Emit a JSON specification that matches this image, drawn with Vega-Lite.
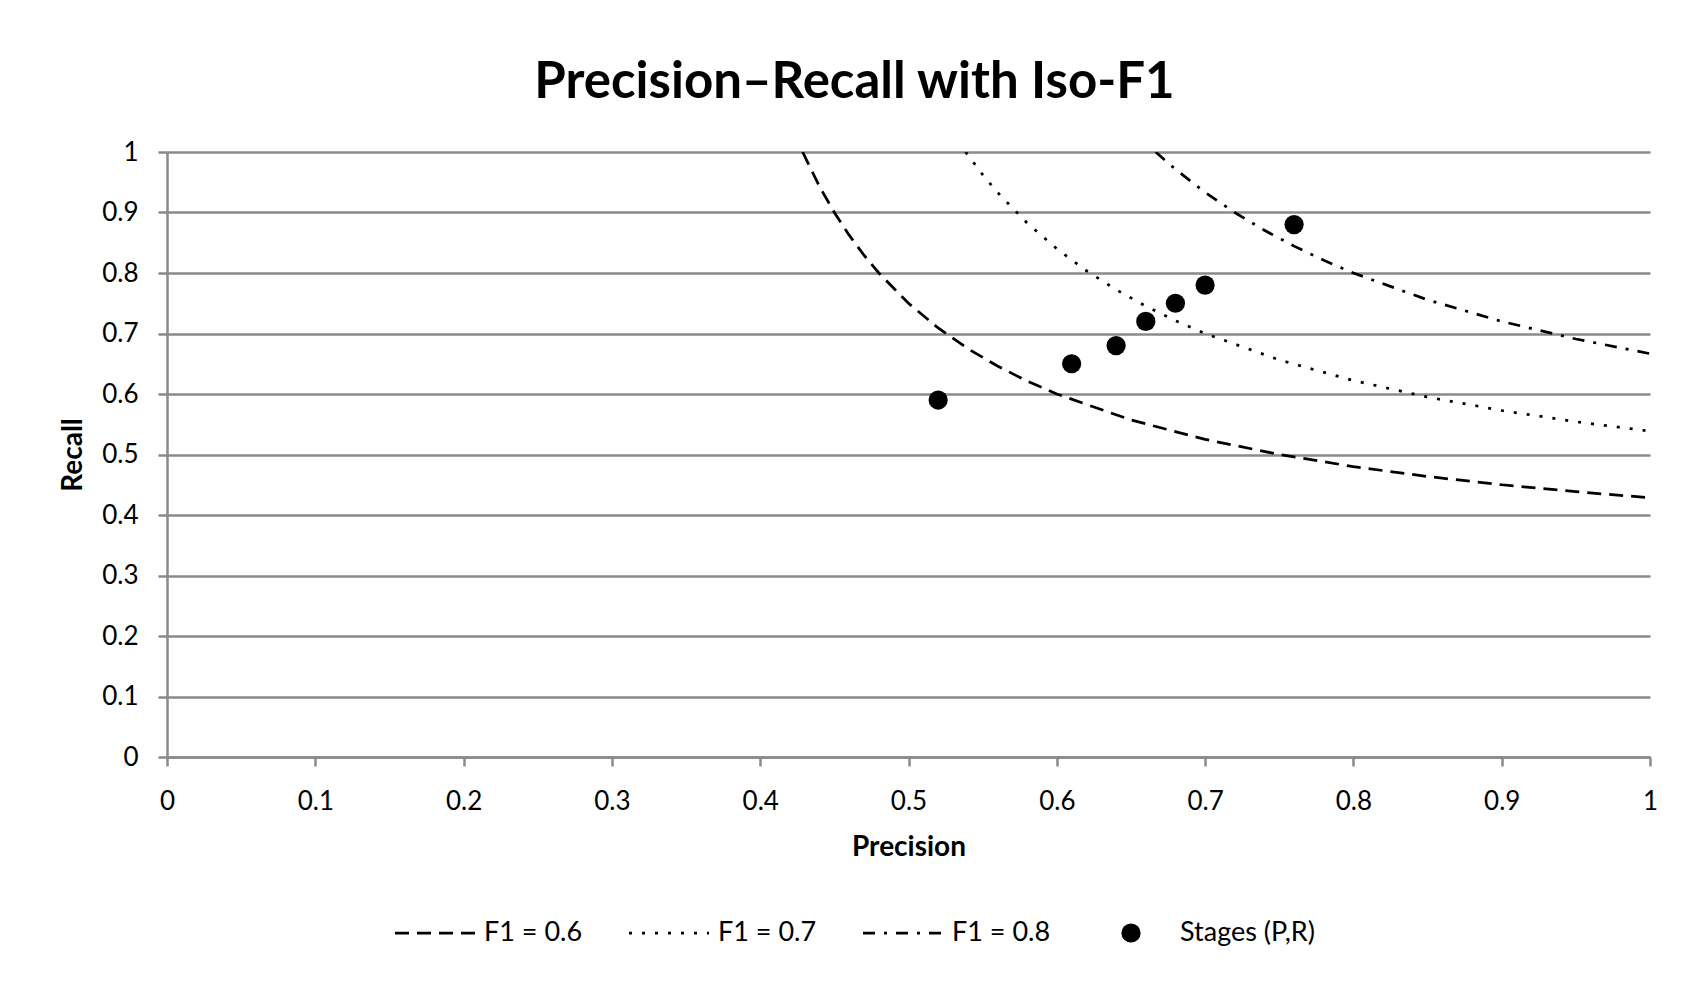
{
  "$schema": "https://vega.github.io/schema/vega-lite/v6.json",
  "autosize": {"type": "none"},
  "padding": {"left": 167, "top": 152, "right": 54, "bottom": 239},
  "width": 1483,
  "height": 605,
  "background": "white",
  "title": {
    "text": "Precision–Recall with Iso-F1",
    "font": "Lato",
    "fontSize": 51,
    "fontWeight": "bold",
    "color": "#000000",
    "anchor": "middle",
    "dx": -54,
    "offset": 30
  },
  "datasets": {
    "curves": [
      {"P": 0.4286, "R": 1.0, "series": "F1 = 0.6"},
      {"P": 0.44, "R": 0.9429, "series": "F1 = 0.6"},
      {"P": 0.45, "R": 0.9, "series": "F1 = 0.6"},
      {"P": 0.46, "R": 0.8625, "series": "F1 = 0.6"},
      {"P": 0.47, "R": 0.8294, "series": "F1 = 0.6"},
      {"P": 0.48, "R": 0.8, "series": "F1 = 0.6"},
      {"P": 0.5, "R": 0.75, "series": "F1 = 0.6"},
      {"P": 0.52, "R": 0.7091, "series": "F1 = 0.6"},
      {"P": 0.54, "R": 0.675, "series": "F1 = 0.6"},
      {"P": 0.56, "R": 0.6462, "series": "F1 = 0.6"},
      {"P": 0.58, "R": 0.6214, "series": "F1 = 0.6"},
      {"P": 0.6, "R": 0.6, "series": "F1 = 0.6"},
      {"P": 0.65, "R": 0.5571, "series": "F1 = 0.6"},
      {"P": 0.7, "R": 0.525, "series": "F1 = 0.6"},
      {"P": 0.75, "R": 0.5, "series": "F1 = 0.6"},
      {"P": 0.8, "R": 0.48, "series": "F1 = 0.6"},
      {"P": 0.85, "R": 0.4636, "series": "F1 = 0.6"},
      {"P": 0.9, "R": 0.45, "series": "F1 = 0.6"},
      {"P": 0.95, "R": 0.4385, "series": "F1 = 0.6"},
      {"P": 1.0, "R": 0.4286, "series": "F1 = 0.6"},
      {"P": 0.5385, "R": 1.0, "series": "F1 = 0.7"},
      {"P": 0.55, "R": 0.9625, "series": "F1 = 0.7"},
      {"P": 0.56, "R": 0.9333, "series": "F1 = 0.7"},
      {"P": 0.58, "R": 0.8826, "series": "F1 = 0.7"},
      {"P": 0.6, "R": 0.84, "series": "F1 = 0.7"},
      {"P": 0.62, "R": 0.8037, "series": "F1 = 0.7"},
      {"P": 0.64, "R": 0.7724, "series": "F1 = 0.7"},
      {"P": 0.66, "R": 0.7452, "series": "F1 = 0.7"},
      {"P": 0.68, "R": 0.7212, "series": "F1 = 0.7"},
      {"P": 0.7, "R": 0.7, "series": "F1 = 0.7"},
      {"P": 0.75, "R": 0.6563, "series": "F1 = 0.7"},
      {"P": 0.8, "R": 0.6222, "series": "F1 = 0.7"},
      {"P": 0.85, "R": 0.595, "series": "F1 = 0.7"},
      {"P": 0.9, "R": 0.5727, "series": "F1 = 0.7"},
      {"P": 0.95, "R": 0.5542, "series": "F1 = 0.7"},
      {"P": 1.0, "R": 0.5385, "series": "F1 = 0.7"},
      {"P": 0.6667, "R": 1.0, "series": "F1 = 0.8"},
      {"P": 0.68, "R": 0.9714, "series": "F1 = 0.8"},
      {"P": 0.7, "R": 0.9333, "series": "F1 = 0.8"},
      {"P": 0.72, "R": 0.9, "series": "F1 = 0.8"},
      {"P": 0.74, "R": 0.8706, "series": "F1 = 0.8"},
      {"P": 0.76, "R": 0.8444, "series": "F1 = 0.8"},
      {"P": 0.78, "R": 0.8211, "series": "F1 = 0.8"},
      {"P": 0.8, "R": 0.8, "series": "F1 = 0.8"},
      {"P": 0.85, "R": 0.7556, "series": "F1 = 0.8"},
      {"P": 0.9, "R": 0.72, "series": "F1 = 0.8"},
      {"P": 0.95, "R": 0.6909, "series": "F1 = 0.8"},
      {"P": 1.0, "R": 0.6667, "series": "F1 = 0.8"}
    ],
    "stages": [
      {"P": 0.52, "R": 0.59, "series": "Stages (P,R)"},
      {"P": 0.61, "R": 0.65, "series": "Stages (P,R)"},
      {"P": 0.64, "R": 0.68, "series": "Stages (P,R)"},
      {"P": 0.66, "R": 0.72, "series": "Stages (P,R)"},
      {"P": 0.68, "R": 0.75, "series": "Stages (P,R)"},
      {"P": 0.70, "R": 0.78, "series": "Stages (P,R)"},
      {"P": 0.76, "R": 0.88, "series": "Stages (P,R)"}
    ]
  },
  "encoding": {
    "x": {
      "field": "P",
      "type": "quantitative",
      "scale": {"domain": [0, 1], "nice": false, "zero": false},
      "axis": {
        "title": "Precision",
        "values": [0, 0.1, 0.2, 0.3, 0.4, 0.5, 0.6, 0.7, 0.8, 0.9, 1],
        "format": "~g",
        "grid": false,
        "labelFlush": false,
        "labelOverlap": false,
        "labelPadding": 22,
        "titlePadding": 19
      }
    },
    "y": {
      "field": "R",
      "type": "quantitative",
      "scale": {"domain": [0, 1], "nice": false, "zero": false},
      "axis": {
        "title": "Recall",
        "values": [0, 0.1, 0.2, 0.3, 0.4, 0.5, 0.6, 0.7, 0.8, 0.9, 1],
        "format": "~g",
        "grid": true,
        "labelFlush": false,
        "labelOverlap": false,
        "labelPadding": 20,
        "titlePadding": 14
      }
    }
  },
  "layer": [
    {
      "data": {"name": "curves"},
      "mark": {"type": "line", "color": "#000000", "strokeWidth": 2.75, "strokeCap": "butt", "clip": true},
      "encoding": {
        "strokeDash": {
          "field": "series",
          "type": "nominal",
          "scale": {
            "domain": ["F1 = 0.6", "F1 = 0.7", "F1 = 0.8", "Stages (P,R)"],
            "range": [[14, 8], [3, 10], [12, 9, 3, 9], [1, 0]]
          },
          "legend": {
            "title": null,
            "encode": {
              "symbols": {"update": {"stroke": {"value": "#000000"}, "strokeWidth": {"signal": "datum.value === 'Stages (P,R)' ? 0 : 2.75"}, "x": {"value": 40}, "y": {"value": 16}}},
              "labels": {"update": {"x": {"value": 89}, "y": {"value": 16}}}
            }
          }
        }
      }
    },
    {
      "data": {"name": "stages"},
      "mark": {"type": "point", "filled": true, "color": "#000000", "opacity": 1},
      "encoding": {
        "shape": {
          "field": "series",
          "type": "nominal",
          "scale": {
            "domain": ["F1 = 0.6", "F1 = 0.7", "F1 = 0.8", "Stages (P,R)"],
            "range": ["stroke", "stroke", "stroke", "circle"]
          },
          "legend": {
            "title": null,
            "encode": {
              "symbols": {"update": {"stroke": {"value": "#000000"}, "strokeWidth": {"signal": "datum.value === 'Stages (P,R)' ? 0 : 2.75"}, "x": {"value": 40}, "y": {"value": 16}}},
              "labels": {"update": {"x": {"value": 89}, "y": {"value": 16}}}
            }
          }
        },
        "size": {
          "field": "series",
          "type": "nominal",
          "scale": {
            "type": "ordinal",
            "domain": ["F1 = 0.6", "F1 = 0.7", "F1 = 0.8", "Stages (P,R)"],
            "range": [6400, 6400, 6400, 370]
          },
          "legend": {
            "title": null,
            "encode": {
              "symbols": {"update": {"stroke": {"value": "#000000"}, "strokeWidth": {"signal": "datum.value === 'Stages (P,R)' ? 0 : 2.75"}, "x": {"value": 40}, "y": {"value": 16}}},
              "labels": {"update": {"x": {"value": 89}, "y": {"value": 16}}}
            }
          }
        }
      }
    }
  ],
  "config": {
    "view": {"stroke": null},
    "font": "Lato",
    "axis": {
      "labelFont": "Lato",
      "labelFontSize": 26,
      "labelColor": "#000000",
      "titleFont": "Lato",
      "titleFontSize": 28,
      "titleFontWeight": "bold",
      "titleColor": "#000000",
      "domainColor": "#8a8a8a",
      "domainWidth": 2.5,
      "tickColor": "#8a8a8a",
      "tickWidth": 2.5,
      "tickSize": 9,
      "gridColor": "#8a8a8a",
      "gridWidth": 2.5
    },
    "legend": {
      "orient": "none",
      "legendX": 228,
      "legendY": 765,
      "direction": "horizontal",
      "columns": 4,
      "columnPadding": 40,
      "labelFont": "Lato",
      "labelFontSize": 27,
      "labelColor": "#000000",
      "labelOffset": 9,
      "symbolStrokeColor": "#000000",
      "symbolFillColor": "#000000",
      "symbolStrokeWidth": 2.75,
      "padding": 0
    }
  }
}
